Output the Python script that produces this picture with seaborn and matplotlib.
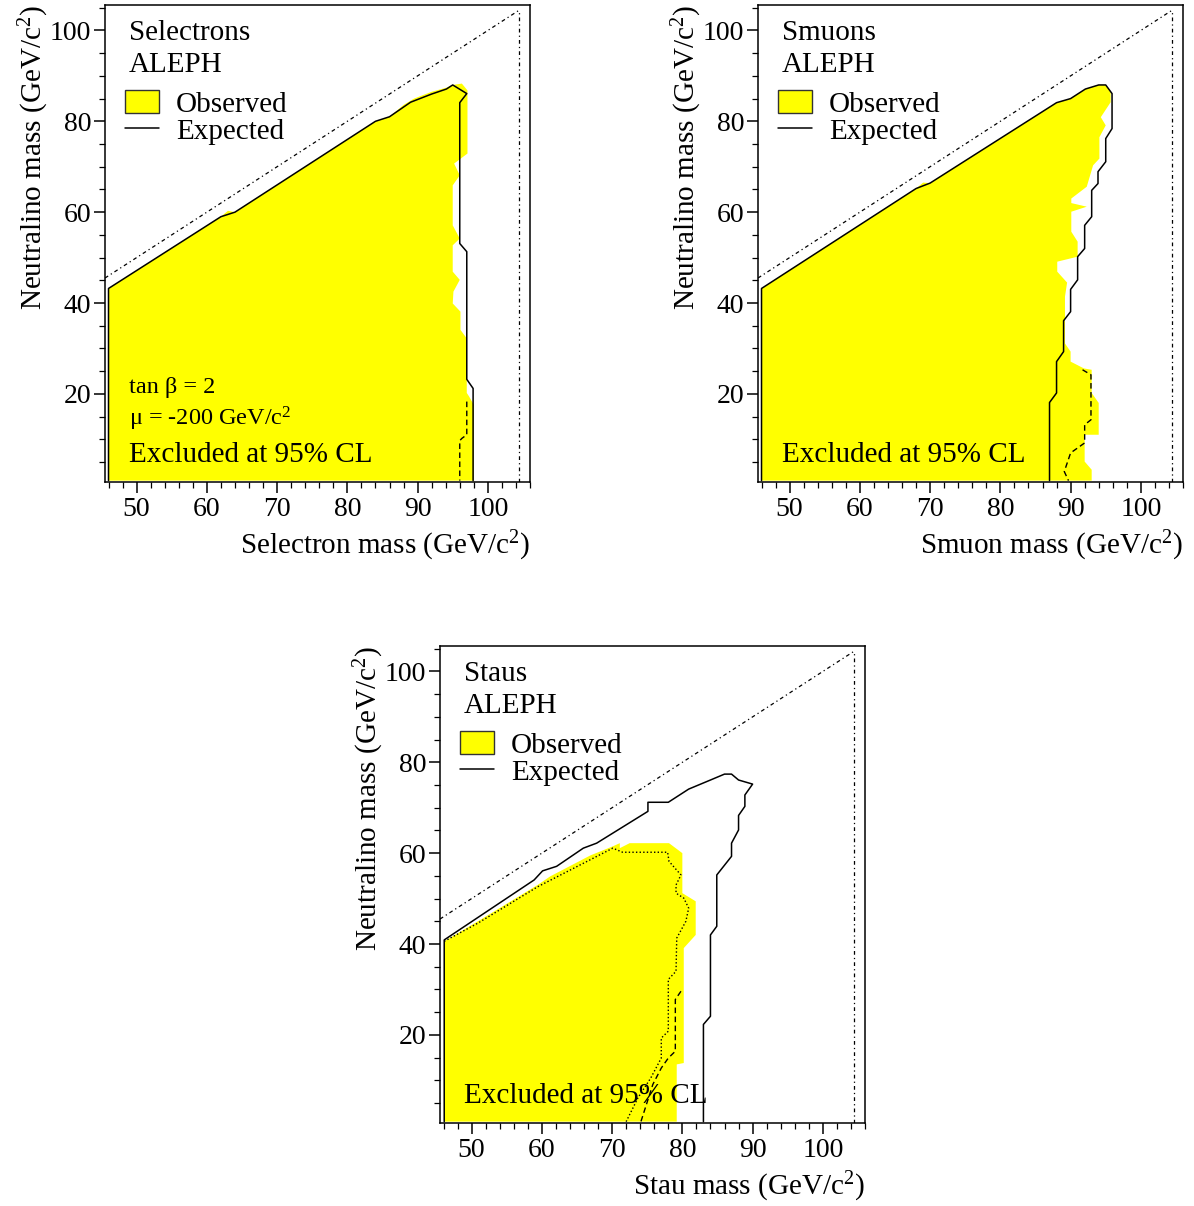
import matplotlib
matplotlib.use("Agg")
import matplotlib.pyplot as plt
import seaborn as sns
import numpy as np
from matplotlib.patches import Patch
from matplotlib.lines import Line2D
from matplotlib.ticker import MultipleLocator

# ---------------- data ----------------
# Kinematic limits
kin_diag_x = [45.5, 104.5]
kin_diag_y = [45.5, 104.5]
kin_vert_x = [104.5, 104.5]
kin_vert_y = [0.6, 104.5]

# Selectrons
sel_exp_x = [46.0, 46.0, 62.0, 64.0, 84.0, 86.0, 89.0, 92.0, 94.1, 95.0, 97.0, 96.0, 96.0, 97.0, 97.0, 97.9, 97.9]
sel_exp_y = [0.9, 43.2, 59.0, 60.0, 80.0, 81.0, 84.2, 86.0, 87.1, 88.0, 86.1, 84.1, 53.1, 51.3, 23.2, 21.2, 0.9]
sel_dash_x = [97.0, 97.0, 96.3, 96.0, 96.0]
sel_dash_y = [18.3, 11.0, 10.2, 9.7, 0.9]
sel_obs_x = [46.0, 46.0, 62.0, 63.0, 64.0, 84.0, 86.0, 88.0, 89.5, 92.0, 94.1, 95.0, 96.3, 97.1,
             97.1, 95.2, 96.0, 95.0, 95.0, 96.0, 95.0, 95.0, 96.0, 95.1, 95.0, 96.1, 96.1, 97.0,
             97.0, 97.3, 98.0, 98.0]
sel_obs_y = [0.9, 43.2, 59.0, 60.3, 60.0, 80.0, 81.0, 83.6, 85.0, 86.5, 87.4, 88.0, 88.3, 86.8,
             72.9, 70.7, 68.1, 65.9, 57.1, 54.2, 52.7, 46.9, 45.1, 42.5, 39.9, 38.1, 34.1, 32.2,
             20.2, 19.5, 17.6, 0.9]

# Smuons
smu_exp_x = [46.0, 46.0, 68.0, 70.0, 88.0, 90.0, 92.1, 94.0, 95.0, 95.9, 95.9, 95.0, 95.0, 93.9, 93.9,
             93.0, 93.0, 92.0, 92.0, 91.0, 91.0, 90.0, 90.0, 89.0, 89.0, 88.0, 88.0, 87.0, 87.0]
smu_exp_y = [0.9, 43.2, 65.2, 66.4, 84.1, 85.0, 87.1, 88.0, 88.0, 86.1, 78.4, 76.2, 71.1, 68.9, 66.3,
             64.8, 59.0, 57.1, 52.0, 50.2, 45.1, 43.0, 38.1, 36.1, 29.3, 27.1, 20.2, 18.1, 0.9]
smu_dash_x = [91.7, 92.9, 92.9, 92.0, 92.0, 90.0, 89.1, 89.7]
smu_dash_y = [25.3, 24.2, 14.3, 13.2, 9.2, 7.0, 2.9, 0.9]
smu_obs_x = [46.0, 46.0, 68.0, 69.0, 70.0, 88.0, 90.0, 92.1, 94.0, 95.0, 95.7, 95.7, 94.3, 95.0,
             94.1, 94.1, 93.2, 92.3, 90.1, 90.1, 92.3, 90.1, 90.1, 91.0, 91.0, 88.1, 88.1, 89.5,
             89.2, 89.2, 90.0, 90.0, 91.9, 93.0, 93.0, 94.0, 94.0, 92.0, 92.0, 93.0, 93.0]
smu_obs_y = [0.9, 43.2, 65.2, 66.5, 66.4, 84.1, 85.0, 87.1, 88.0, 88.0, 86.5, 84.2, 80.9, 79.1,
             76.5, 71.8, 70.3, 65.6, 63.0, 62.0, 61.2, 60.1, 55.7, 53.5, 50.2, 49.1, 46.9, 44.5,
             41.4, 31.1, 29.3, 27.1, 25.6, 25.3, 20.2, 18.0, 11.0, 11.0, 5.1, 3.3, 0.9]

# Staus
stau_exp_x = [46.1, 46.1, 58.9, 60.1, 62.1, 65.9, 67.8, 75.1, 75.1, 78.0, 80.9, 84.0, 86.0, 87.0,
              88.0, 90.0, 88.9, 88.9, 88.0, 88.0, 87.0, 87.0, 84.9, 84.9, 84.0, 84.0, 83.0, 83.0]
stau_exp_y = [0.9, 40.9, 54.1, 56.1, 57.1, 61.1, 62.2, 69.2, 71.2, 71.2, 74.1, 76.1, 77.4, 77.4,
              76.1, 75.2, 72.8, 70.3, 68.3, 65.1, 62.2, 59.3, 55.2, 43.9, 42.0, 24.1, 22.3, 0.9]
stau_obs_x = [46.1, 46.1, 50.9, 59.4, 61.2, 66.9, 70.1, 71.1, 71.1, 72.5, 78.1, 80.0, 80.0, 81.9,
              81.9, 80.2, 80.2, 79.2, 79.2]
stau_obs_y = [0.9, 40.6, 45.0, 53.0, 54.9, 59.5, 61.5, 62.2, 61.1, 62.2, 62.2, 60.0, 51.2, 49.4,
              42.0, 39.1, 13.8, 13.5, 0.9]
stau_dot_x = [46.1, 50.9, 59.4, 70.1, 71.5, 77.9, 78.1, 79.8, 79.1, 79.1, 80.2, 80.9, 80.5, 79.2,
              79.1, 78.0, 78.0, 77.0, 77.0, 75.5, 73.7, 72.0]
stau_dot_y = [40.6, 44.6, 52.6, 61.1, 60.2, 60.2, 58.2, 55.2, 53.0, 51.2, 50.1, 47.9, 45.0, 41.3,
              34.0, 32.2, 20.8, 19.3, 14.9, 10.5, 6.2, 0.9]
stau_dash_x = [79.8, 79.0, 79.0, 78.0, 77.0, 75.8, 74.1]
stau_dash_y = [29.6, 27.8, 16.4, 14.9, 12.7, 9.1, 0.9]

xticks = [50, 60, 70, 80, 90, 100]
yticks = [20, 40, 60, 80, 100]

# ---------------- style ----------------
sns.set_theme(style="ticks")
plt.rcParams['font.family'] = ['Liberation Serif', 'DejaVu Serif']
plt.rcParams['mathtext.fontset'] = 'custom'
plt.rcParams['mathtext.rm'] = 'Liberation Serif'
plt.rcParams['mathtext.it'] = 'Liberation Serif:italic'
plt.rcParams['axes.linewidth'] = 1.1
plt.rcParams['axes.edgecolor'] = 'black'
plt.rcParams['text.color'] = 'black'
plt.rcParams['axes.labelcolor'] = 'black'
plt.rcParams['xtick.color'] = 'black'
plt.rcParams['ytick.color'] = 'black'

YELLOW = '#FFFF00'
FS = 21
DASHDOT = (0, (3, 2.5, 1, 2.5))

fig = plt.figure(figsize=(11.94, 12.06), dpi=100)
W, H = 1194.0, 1206.0


def make_ax(left_px, top_px, w_px=425, h_px=477):
    return fig.add_axes([left_px / W, 1 - (top_px + h_px) / H, w_px / W, h_px / H])


def style_ax(ax, xlabel):
    ax.set_xlim(45.5, 106.0)
    ax.set_ylim(0.6, 105.6)
    ax.set_xticks(xticks)
    ax.set_yticks(yticks)
    ax.xaxis.set_minor_locator(MultipleLocator(2))
    ax.yaxis.set_minor_locator(MultipleLocator(5))
    ax.tick_params(axis='both', which='major', direction='out', length=8, width=1.1,
                   labelsize=20, colors='black', top=False, right=False)
    ax.tick_params(axis='both', which='minor', direction='out', length=4, width=0.9,
                   top=False, right=False)
    ax.tick_params(axis='x', which='major', pad=3)
    ax.tick_params(axis='y', which='major', pad=2)
    for s in ax.spines.values():
        s.set_visible(True)
        s.set_color('black')
    ax.set_xlabel(xlabel, loc='right', fontsize=FS, labelpad=5)
    ax.set_ylabel(r'Neutralino mass (GeV/c$^{2}$)', loc='top', fontsize=FS, labelpad=-1)
    ax.grid(False)


def draw_panel(ax, name, obs_x, obs_y, exp_x, exp_y, extra=None):
    ax.fill(obs_x, obs_y, color=YELLOW, lw=0, zorder=1)
    sns.lineplot(x=exp_x, y=exp_y, sort=False, estimator=None, color='black', lw=1.1, ax=ax, zorder=3)
    if extra:
        for ex, ey, ls in extra:
            sns.lineplot(x=ex, y=ey, sort=False, estimator=None, color='black', lw=1.0,
                         linestyle=ls, ax=ax, zorder=3)
    sns.lineplot(x=kin_diag_x, y=kin_diag_y, sort=False, estimator=None, color='black', lw=0.9,
                 linestyle=DASHDOT, ax=ax, zorder=2)
    sns.lineplot(x=kin_vert_x, y=kin_vert_y, sort=False, estimator=None, color='black', lw=0.9,
                 linestyle=DASHDOT, ax=ax, zorder=2)
    ax.text(0.056, 0.927, name, transform=ax.transAxes, fontsize=FS, va='baseline', ha='left')
    ax.text(0.056, 0.860, 'ALEPH', transform=ax.transAxes, fontsize=FS, va='baseline', ha='left')
    handles = [Patch(facecolor=YELLOW, edgecolor='#333333', lw=1.0),
               Line2D([], [], color='black', lw=1.1)]
    ax.legend(handles, ['Observed', 'Expected'], loc='upper left', bbox_to_anchor=(0.047, 0.822),
              frameon=False, fontsize=FS, handlelength=1.15, handleheight=0.85,
              handletextpad=0.6, labelspacing=0.0, borderpad=0.0, borderaxespad=0.0)
    ax.text(0.056, 0.042, 'Excluded at 95% CL', transform=ax.transAxes, fontsize=FS,
            va='baseline', ha='left', zorder=5)


# Panel 1: selectrons
ax1 = make_ax(105, 5)
draw_panel(ax1, 'Selectrons', sel_obs_x, sel_obs_y, sel_exp_x, sel_exp_y,
           extra=[(sel_dash_x, sel_dash_y, (0, (4, 2.5)))])
ax1.text(0.056, 0.187, 'tan β = 2', transform=ax1.transAxes, fontsize=17.5, va='baseline')
ax1.text(0.056, 0.118, r'μ = -200 GeV/c$^{2}$', transform=ax1.transAxes, fontsize=17.5, va='baseline')
style_ax(ax1, r'Selectron mass (GeV/c$^{2}$)')

# Panel 2: smuons
ax2 = make_ax(758, 5)
draw_panel(ax2, 'Smuons', smu_obs_x, smu_obs_y, smu_exp_x, smu_exp_y,
           extra=[(smu_dash_x, smu_dash_y, (0, (4, 2.5)))])
style_ax(ax2, r'Smuon mass (GeV/c$^{2}$)')

# Panel 3: staus
ax3 = make_ax(440, 646)
draw_panel(ax3, 'Staus', stau_obs_x, stau_obs_y, stau_exp_x, stau_exp_y,
           extra=[(stau_dot_x, stau_dot_y, (0, (1, 1.6))),
                  (stau_dash_x, stau_dash_y, (0, (4, 2.5)))])
style_ax(ax3, r'Stau mass (GeV/c$^{2}$)')

fig.savefig('out.png', dpi=100)
